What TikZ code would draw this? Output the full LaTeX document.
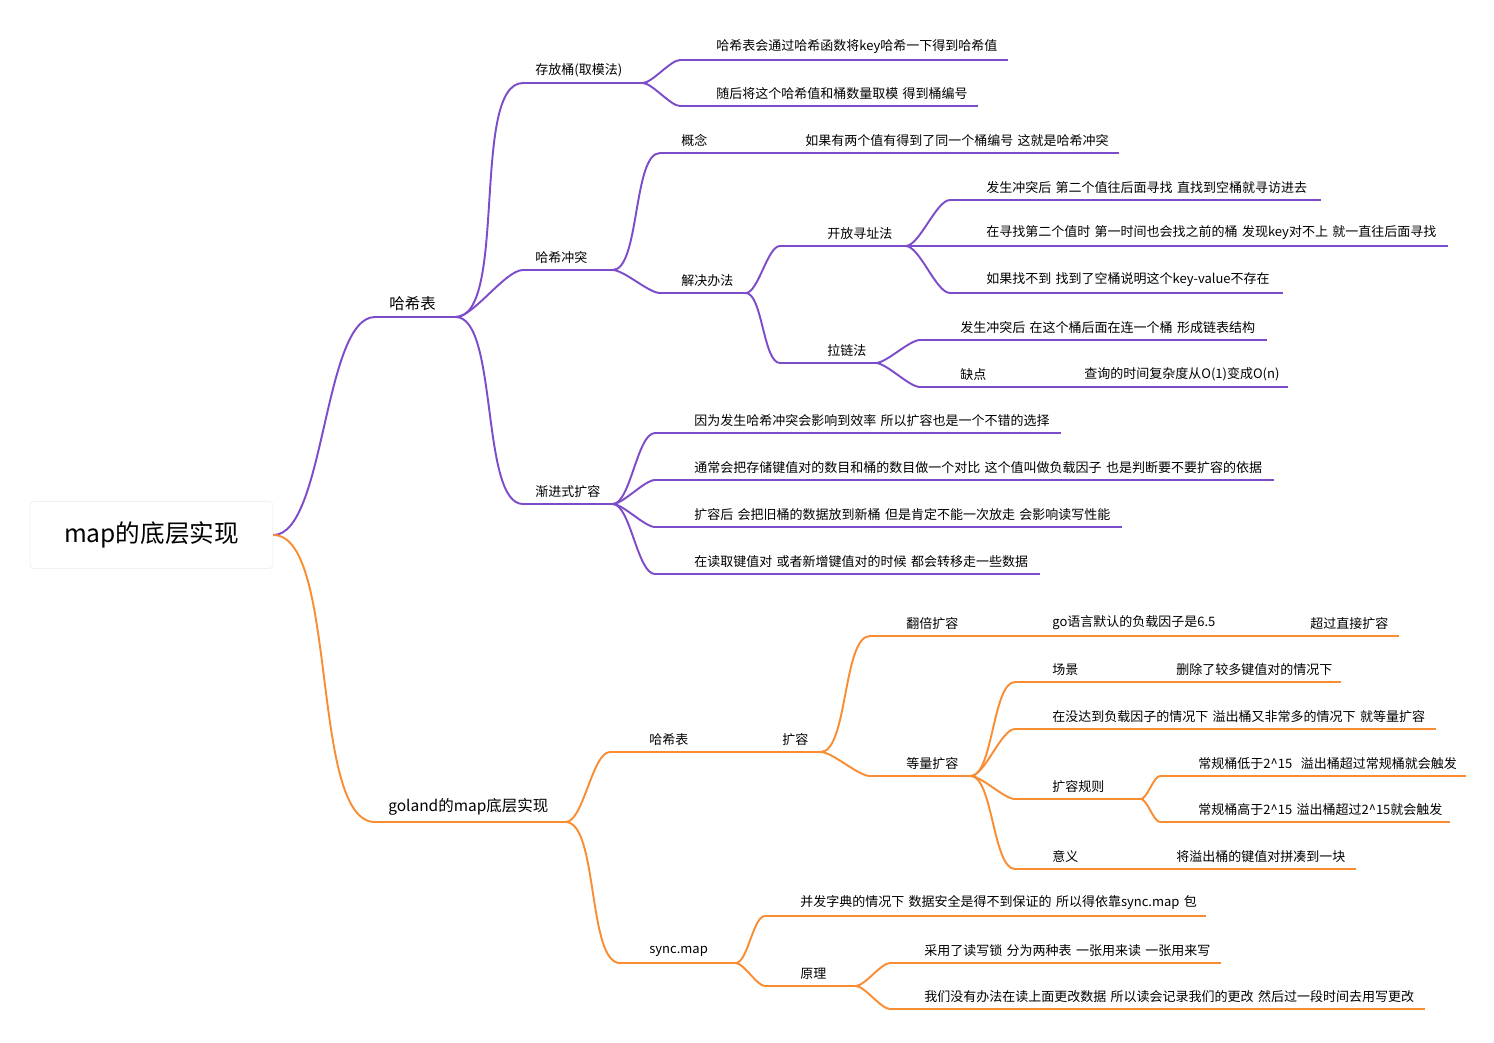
\documentclass[tikz,border=0pt]{standalone}
\usepackage{fontspec}
\setmainfont{Noto Sans CJK SC}
\usetikzlibrary{positioning}
\definecolor{hash}{HTML}{7D4CCB}
\definecolor{gomap}{HTML}{F98D34}

\newcommand\tcol{hash}
% topic: name, line start, line end, line y, text x, text
\newcommand\topic[6]{%
  \pgfmathsetmacro\tw{(#3-#2)*0.02}\pgfmathsetmacro\tp{(#5-#2)*0.02}%
  \node[topic,text width=\tw cm] (#1) at (#2,#4) {\hspace*{\tp cm}#6};
  \draw[line] (#1.south west) -- (#1.south east);}
\newcommand\conn[2]{\draw[line] (#1.south east) to[out=0,in=180,looseness=0.55] (#2.south west);}

\begin{document}
\begin{tikzpicture}[x=0.02cm,y=-0.02cm,
topic/.style={anchor=south west,inner xsep=0pt,inner ysep=0.12cm,align=left,
  font=\fontsize{7.4}{9}\selectfont},
main/.style={topic,font=\fontsize{8.8}{11}\selectfont},
line/.style={draw=\tcol,line width=1.1pt},
root/.style={draw=black!6,fill=white,rounded corners=2pt,minimum width=4.86cm,
  minimum height=1.34cm,font=\fontsize{14}{17}\selectfont}]
\useasboundingbox (0,0) rectangle (1494,1042);
\node[root] (root) at (151.5,535) {map的底层实现};

% hash table branch
\renewcommand\tcol{hash}
\node[main,text width=1.6cm] (ht) at (375,317) {\hspace*{0.28cm}哈希表};
\draw[line] (ht.south west) -- (ht.south east);
\draw[line] (root.east) to[out=0,in=180,looseness=0.55] (ht.south west);
\topic{bucket}{523}{642}{83}{535}{存放桶(取模法)}
\topic{b1}{680}{1007}{60}{716}{哈希表会通过哈希函数将key哈希一下得到哈希值}
\topic{b2}{680}{977}{106}{716}{随后将这个哈希值和桶数量取模 得到桶编号}
\topic{clash}{523}{612}{270}{535}{哈希冲突}
\topic{idea}{660}{760}{153}{681}{概念}
\topic{idea1}{760}{1118}{153}{805}{如果有两个值有得到了同一个桶编号 这就是哈希冲突}
\topic{fix}{660}{745}{293}{681}{解决办法}
\topic{open}{780}{905}{246}{827}{开放寻址法}
\topic{o1}{950}{1320}{200}{986}{发生冲突后 第二个值往后面寻找 直找到空桶就寻访进去}
\topic{o2}{950}{1447}{246}{986}{在寻找第二个值时 第一时间也会找之前的桶 发现key对不上 就一直往后面寻找}
\topic{o3}{950}{1282}{293}{986}{如果找不到 找到了空桶说明这个key-value不存在}
\topic{chain}{780}{875}{363}{827}{拉链法}
\topic{c1}{920}{1266}{340}{960}{发生冲突后 在这个桶后面在连一个桶 形成链表结构}
\topic{c2}{920}{1040}{387}{960}{缺点}
\topic{c3}{1040}{1287}{387}{1084}{查询的时间复杂度从O(1)变成O(n)}
\topic{grow}{523}{612}{504}{535}{渐进式扩容}
\topic{g1}{655}{1060}{433}{694}{因为发生哈希冲突会影响到效率 所以扩容也是一个不错的选择}
\topic{g2}{655}{1273}{480}{694}{通常会把存储键值对的数目和桶的数目做一个对比 这个值叫做负载因子 也是判断要不要扩容的依据}
\topic{g3}{655}{1121}{527}{694}{扩容后 会把旧桶的数据放到新桶 但是肯定不能一次放走 会影响读写性能}
\topic{g4}{655}{1039}{574}{694}{在读取键值对 或者新增键值对的时候 都会转移走一些数据}
\conn{ht}{bucket}\conn{ht}{clash}\conn{ht}{grow}
\conn{bucket}{b1}\conn{bucket}{b2}
\conn{clash}{idea}\conn{clash}{fix}
\conn{fix}{open}\conn{fix}{chain}
\conn{open}{o1}\conn{open}{o2}\conn{open}{o3}
\conn{chain}{c1}\conn{chain}{c2}
\conn{grow}{g1}\conn{grow}{g2}\conn{grow}{g3}\conn{grow}{g4}

% goland map branch
\renewcommand\tcol{gomap}
\node[main,text width=3.8cm] (gm) at (375,822) {\hspace*{0.26cm}goland的map底层实现};
\draw[line] (gm.south west) -- (gm.south east);
\draw[line] (root.east) to[out=0,in=180,looseness=0.55] (gm.south west);
\topic{tab}{610}{700}{752}{649}{哈希表}
\topic{exp}{700}{820}{752}{782}{扩容}
\topic{dbl}{870}{985}{636}{906}{翻倍扩容}
\topic{d1}{985}{1240}{636}{1052}{go语言默认的负载因子是6.5}
\topic{d2}{1240}{1398}{636}{1310}{超过直接扩容}
\topic{same}{870}{970}{776}{906}{等量扩容}
\topic{s1}{1015}{1130}{682}{1052}{场景}
\topic{s2}{1130}{1340}{682}{1176}{删除了较多键值对的情况下}
\topic{s3}{1015}{1435}{729}{1052}{在没达到负载因子的情况下 溢出桶又非常多的情况下 就等量扩容}
\topic{rule}{1015}{1140}{799}{1052}{扩容规则}
\topic{r1}{1160}{1465}{776}{1198}{常规桶低于2\^{}15\ \ 溢出桶超过常规桶就会触发}
\topic{r2}{1160}{1449}{822}{1198}{常规桶高于2\^{}15 溢出桶超过2\^{}15就会触发}
\topic{mean}{1015}{1130}{869}{1052}{意义}
\topic{m1}{1130}{1355}{869}{1176}{将溢出桶的键值对拼凑到一块}
\topic{sync}{620}{735}{963}{649}{sync.map}
\topic{y1}{765}{1205}{916}{800}{并发字典的情况下 数据安全是得不到保证的 所以得依靠sync.map 包}
\topic{how}{765}{855}{986}{800}{原理}
\topic{h1}{890}{1220}{963}{924}{采用了读写锁 分为两种表 一张用来读 一张用来写}
\topic{h2}{890}{1424}{1009}{924}{我们没有办法在读上面更改数据 所以读会记录我们的更改 然后过一段时间去用写更改}
\conn{gm}{tab}\conn{gm}{sync}
\conn{exp}{dbl}\conn{exp}{same}
\conn{same}{s1}\conn{same}{s3}\conn{same}{rule}\conn{same}{mean}
\conn{rule}{r1}\conn{rule}{r2}
\conn{sync}{y1}\conn{sync}{how}
\conn{how}{h1}\conn{how}{h2}
\end{tikzpicture}
\end{document}
